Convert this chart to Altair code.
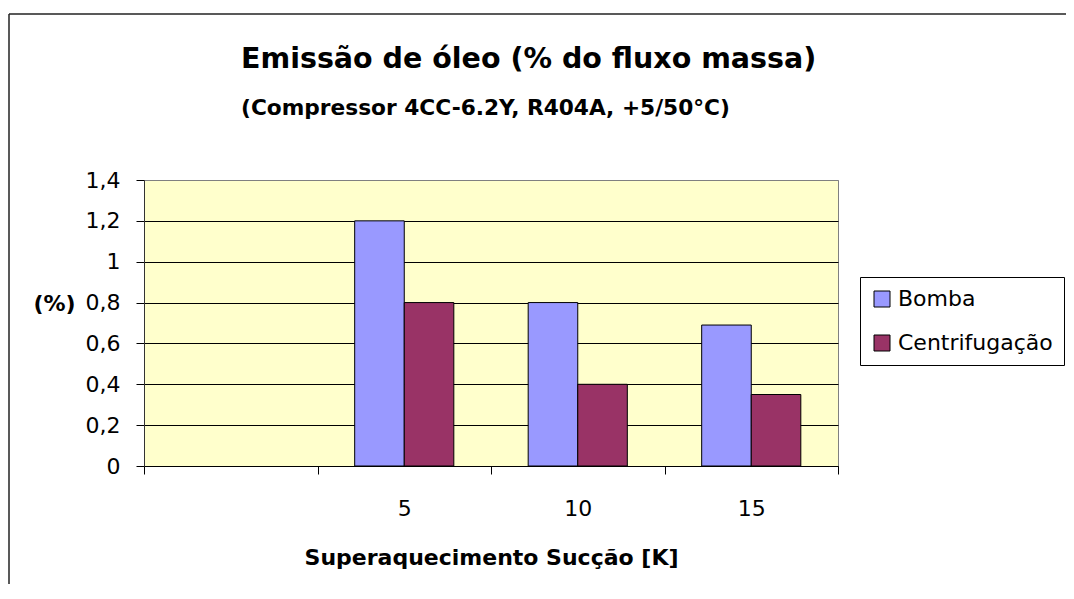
import altair as alt
import pandas as pd

categories = ["5", "10", "15"]
series = ["Bomba", "Centrifugação"]
bomba = [1.2, 0.8, 0.69]
centrifugacao = [0.8, 0.4, 0.35]
x_domain = [" ", "5", "10", "15"]
colors = ["#9999FF", "#993366"]

title_text = "Emissão de óleo (% do fluxo massa)"
subtitle_text = "(Compressor 4CC-6.2Y, R404A, +5/50°C)"
x_title = "Superaquecimento Sucção [K]"
y_title = "(%)"

rows = []
for c, b, z in zip(categories, bomba, centrifugacao):
    rows.append({"k": c, "serie": series[0], "v": b})
    rows.append({"k": c, "serie": series[1], "v": z})
df = pd.DataFrame(rows)

FONT = "DejaVu Sans"

bars = alt.Chart(df).mark_bar(stroke="black", strokeWidth=1).encode(
    x=alt.X("k:N", scale=alt.Scale(domain=x_domain, paddingInner=0, paddingOuter=0),
            axis=alt.Axis(title=x_title, labelAngle=0, tickBand="extent", tickSize=8,
                          tickColor="black", domainColor="black", labelBaseline="middle",
                          labelPadding=34, titleY=91, titleBaseline="middle", grid=False)),
    xOffset=alt.XOffset("serie:N", scale=alt.Scale(domain=series, paddingInner=0, paddingOuter=0.75)),
    y=alt.Y("v:Q", scale=alt.Scale(domain=[0, 1.4], nice=False),
            axis=alt.Axis(title=y_title, values=[0, 0.2, 0.4, 0.6, 0.8, 1.0, 1.2, 1.4],
                          labelExpr="replace(format(datum.value, '.1~f'), '.', ',')",
                          tickSize=8, tickColor="black", domainColor="#333333",
                          labelPadding=16, titleAngle=0, titleX=-90, titleY=123,
                          titleAlign="center", titleBaseline="middle",
                          grid=True,
                          gridColor={"condition": {"test": "datum.value >= 1.4", "value": "#808080"}, "value": "black"})),
    color=alt.Color("serie:N", scale=alt.Scale(domain=series, range=colors),
                    legend=alt.Legend(title=None, orient="none", legendX=716, legendY=97,
                                      padding=11, rowPadding=22, strokeColor="black",
                                      fillColor="white", symbolType="square", symbolSize=256,
                                      symbolStrokeColor="black", symbolStrokeWidth=1,
                                      symbolOpacity=1, labelOffset=5, labelLimit=400,
                                      labelFont=FONT, labelFontSize=22, labelColor="black")),
)

one = pd.DataFrame({"a": [0]})
title_mark = alt.Chart(one).mark_text(font=FONT, fontWeight="bold", fontSize=28.5, align="left",
                                      baseline="alphabetic", color="black").encode(
    x=alt.value(97), y=alt.value(-112), text=alt.value(title_text))
subtitle_mark = alt.Chart(one).mark_text(font=FONT, fontWeight="bold", fontSize=21.7, align="left",
                                         baseline="alphabetic", color="black").encode(
    x=alt.value(97), y=alt.value(-65), text=alt.value(subtitle_text))
border_v = alt.Chart(one).mark_rule(color="#222222", strokeWidth=1.5).encode(
    x=alt.value(-135), y=alt.value(-166), y2=alt.value(600))
border_h = alt.Chart(one).mark_rule(color="#222222", strokeWidth=1.5).encode(
    x=alt.value(-135), x2=alt.value(1000), y=alt.value(-166))

chart = alt.layer(bars, title_mark, subtitle_mark, border_v, border_h).properties(
    width=694, height=286,
    autosize=alt.AutoSizeParams(type="none"),
    padding={"left": 136, "top": 172, "right": 228, "bottom": 118},
    background="white",
).configure_view(
    fill="#FFFFCC", stroke="#808080", strokeWidth=1
).configure_axis(
    labelFont=FONT, labelFontSize=22, labelColor="black",
    titleFont=FONT, titleFontSize=22, titleFontWeight="bold", titleColor="black",
    gridWidth=1, domainWidth=1, tickWidth=1
)

chart.save("out.html", embed_options={"renderer": "svg", "actions": False})
